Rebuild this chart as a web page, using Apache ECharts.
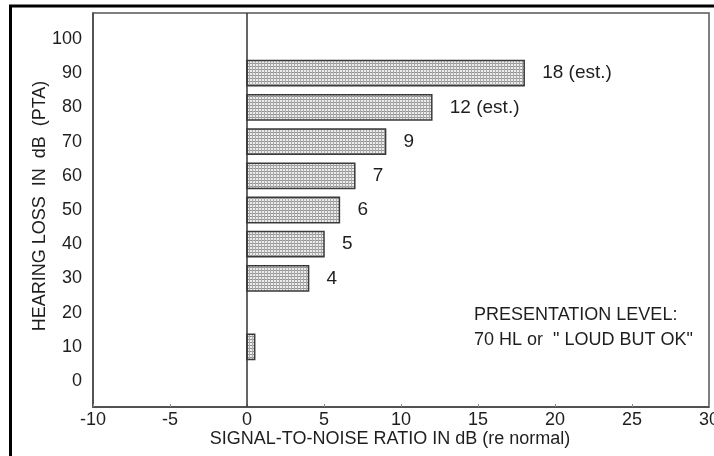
<!DOCTYPE html>
<html>
<head>
<meta charset="utf-8">
<script src="https://cdn.jsdelivr.net/npm/echarts@6/dist/echarts.min.js"></script>
<style>
  html, body { margin: 0; padding: 0; background: #fff; }
  #chart { width: 714px; height: 456px; }
</style>
</head>
<body>
<div id="chart"></div>
<script>
// hearing loss (dB PTA) for each bar, and the S/N ratio needed (dB re normal)
var hearingLoss = [10, 30, 40, 50, 60, 70, 80, 90];
var snrNeeded = [0.5, 4, 5, 6, 7, 9, 12, 18];
var barLabels = ['', '4', '5', '6', '7', '9', '12 (est.)', '18 (est.)'];
var yTicks = [0, 10, 20, 30, 40, 50, 60, 70, 80, 90, 100];

var FONT = '"Liberation Sans", Arial, sans-serif';
var INK = '#1e1e1e';
var BAR_THICK = 7.4; // in dB of hearing loss

// fine stipple grid used to fill the bars
function makePattern() {
    var c = document.createElement('canvas');
    c.width = 3;
    c.height = 3;
    var ctx = c.getContext('2d');
    ctx.fillStyle = '#ececec';
    ctx.fillRect(0, 0, 3, 3);
    ctx.fillStyle = '#959595';
    ctx.fillRect(0, 0, 3, 1);
    ctx.fillStyle = '#ababab';
    ctx.fillRect(0, 0, 1, 3);
    return c;
}
var pattern = makePattern();

var chart = echarts.init(document.getElementById('chart'));

var option = {
    backgroundColor: '#fff',
    animation: false,
    textStyle: { fontFamily: FONT },
    grid: {
        left: 93,
        right: 5,
        top: 13,
        bottom: 49,
        show: true,
        borderColor: '#555',
        borderWidth: 1.5,
        containLabel: false,
        outerBoundsMode: 'none'
    },
    xAxis: {
        type: 'value',
        min: -10,
        max: 30,
        interval: 5,
        name: 'SIGNAL-TO-NOISE RATIO IN dB (re normal)',
        nameLocation: 'middle',
        nameGap: 23,
        nameMoveOverlap: false,
        nameTextStyle: { fontSize: 18, color: INK, fontFamily: FONT, padding: [0, 22, 0, 0] },
        axisLine: { show: true, onZero: false, lineStyle: { color: '#444', width: 1.5 } },
        axisTick: { show: true, inside: true, length: 3, lineStyle: { color: '#888' } },
        axisLabel: { fontSize: 18, color: INK, margin: 4, fontFamily: FONT },
        splitLine: { show: false }
    },
    yAxis: {
        type: 'value',
        min: -7.6,
        max: 107.6,
        name: 'HEARING LOSS  IN  dB  (PTA)',
        nameLocation: 'middle',
        nameRotate: 90,
        nameGap: 44,
        nameMoveOverlap: false,
        nameTextStyle: { fontSize: 18, color: INK, fontFamily: FONT, padding: [0, 0, 0, 8] },
        axisLine: { show: true, onZero: false, lineStyle: { color: '#444', width: 1.5 } },
        axisTick: { show: false },
        axisLabel: { fontSize: 18, color: INK, margin: 11, fontFamily: FONT, customValues: yTicks },
        splitLine: { show: false }
    },
    graphic: [{
        type: 'rect',
        silent: true,
        shape: { x: 10.5, y: 6, width: 900, height: 900 },
        style: { fill: 'none', stroke: '#000', lineWidth: 3 }
    }, {
        type: 'text',
        left: 474,
        top: 303,
        style: {
            text: 'PRESENTATION LEVEL:\n70 HL or  " LOUD BUT OK"',
            font: '18px ' + FONT,
            fill: INK,
            lineHeight: 25
        }
    }],
    series: [{
        type: 'custom',
        encode: { x: 1, y: 0 },
        data: hearingLoss.map(function(h, i) { return [h, snrNeeded[i]]; }),
        renderItem: function(params, api) {
            var y = api.value(0);
            var x = api.value(1);
            var p0 = api.coord([0, y]);
            var p1 = api.coord([x, y]);
            var h = api.size([0, BAR_THICK])[1];
            return {
                type: 'group',
                children: [{
                    type: 'rect',
                    shape: { x: p0[0], y: p0[1] - h / 2, width: p1[0] - p0[0], height: h },
                    style: { fill: { image: pattern, repeat: 'repeat' }, stroke: '#3a3a3a', lineWidth: 1.5 }
                }, {
                    type: 'text',
                    x: p1[0] + 18,
                    y: p1[1],
                    style: {
                        text: barLabels[params.dataIndex],
                        font: '19px ' + FONT,
                        fill: INK,
                        verticalAlign: 'middle',
                        align: 'left'
                    }
                }]
            };
        },
        markLine: {
            silent: true,
            symbol: 'none',
            label: { show: false },
            lineStyle: { color: '#333', width: 1.5, type: 'solid' },
            data: [{ xAxis: 0 }]
        },
        z: 3
    }]
};

chart.setOption(option);
</script>
</body>
</html>
